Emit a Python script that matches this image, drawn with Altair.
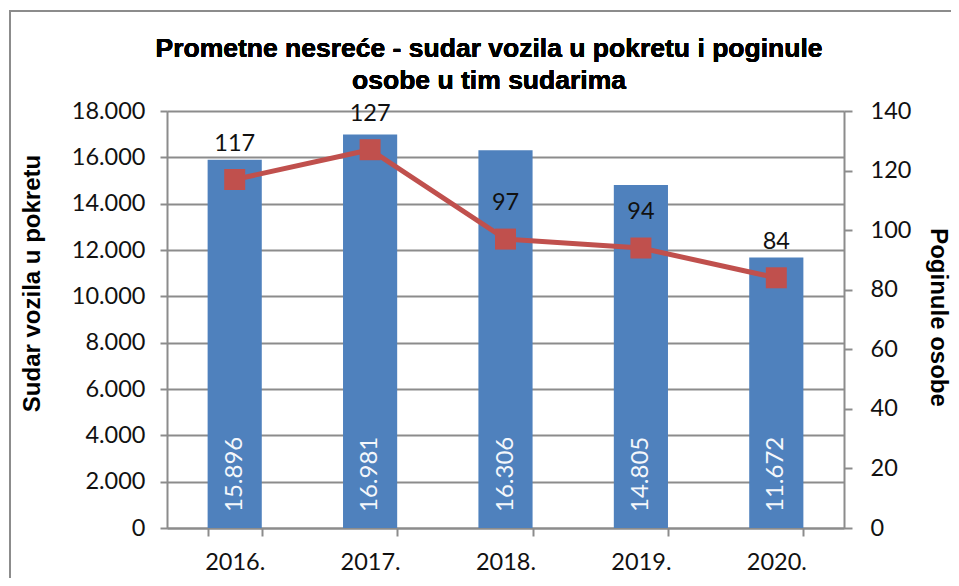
import altair as alt
import pandas as pd

years = ["2016.", "2017.", "2018.", "2019.", "2020."]
collisions = [15896, 16981, 16306, 14805, 11672]
deaths = [117, 127, 97, 94, 84]
collision_labels = ["15.896", "16.981", "16.306", "14.805", "11.672"]
title_text = "Prometne nesreće - sudar vozila u pokretu i poginule\nosobe u tim sudarima"

left_ticks = list(range(0, 18001, 2000))
right_ticks = list(range(0, 141, 20))

df = pd.DataFrame({
    "year": years,
    "collisions": collisions,
    "deaths": deaths,
    "clabel": collision_labels,
})

BLUE = "#4F81BD"
RED = "#C0504D"
GRID = "#8c8c8c"
LFONT = "Lato"
TFONT = "Liberation Sans"

xenc = alt.X("year:N", sort=None, title=None,
             scale=alt.Scale(paddingInner=0.6, paddingOuter=0.3),
             axis=alt.Axis(tickBand="extent", labelAngle=0, labelFont=LFONT,
                           labelFontSize=23.5, labelColor="#111",
                           labelBaseline="alphabetic", labelPadding=33,
                           tickSize=8, tickColor=GRID, tickWidth=2,
                           domainColor=GRID, domainWidth=2, grid=False))

yleft = alt.Y("collisions:Q",
              scale=alt.Scale(domain=[0, 18000], nice=False),
              axis=alt.Axis(values=left_ticks, title="Sudar vozila u pokretu",
                            labelExpr="replace(format(datum.value, ','), ',', '.')",
                            labelFont=LFONT, labelFontSize=23.5, labelColor="#111",
                            labelPadding=15, tickSize=7, tickColor=GRID, tickWidth=2,
                            domainColor=GRID, domainWidth=2,
                            grid=True, gridColor=GRID, gridWidth=2,
                            titleFont=TFONT, titleFontSize=24, titleFontWeight="bold",
                            titleColor="#000", titleX=-128, titleY=172,
                            titleBaseline="alphabetic", titleAngle=270))

bars = alt.Chart(df).mark_bar(color=BLUE).encode(x=xenc, y=yleft)

bar_text = alt.Chart(df).mark_text(
    angle=270, align="left", baseline="middle", dx=16,
    font=LFONT, fontSize=24, color="#f4f7fb"
).encode(x=alt.X("year:N", sort=None), y=alt.datum(0), text="clabel:N")

left = alt.layer(bars, bar_text)

yright = alt.Y("deaths:Q",
               scale=alt.Scale(domain=[0, 140], nice=False),
               axis=alt.Axis(orient="right", values=right_ticks, title="Poginule osobe",
                             labelFont=LFONT, labelFontSize=23.5, labelColor="#111",
                             labelPadding=18, tickSize=8, tickColor=GRID, tickWidth=2,
                             domainColor=GRID, domainWidth=2, grid=False,
                             titleFont=TFONT, titleFontSize=24, titleFontWeight="bold",
                             titleColor="#000", titleX=86, titleY=206,
                             titleBaseline="alphabetic", titleAngle=90))

line = alt.Chart(df).mark_line(color=RED, strokeWidth=5).encode(
    x=alt.X("year:N", sort=None), y=yright)
pts = alt.Chart(df).mark_square(color=RED, size=441, opacity=1).encode(
    x=alt.X("year:N", sort=None), y=alt.Y("deaths:Q"))
line_text = alt.Chart(df).mark_text(
    baseline="alphabetic", dy=-29, font=LFONT, fontSize=23.5, color="#111"
).encode(x=alt.X("year:N", sort=None), y=alt.Y("deaths:Q"), text="deaths:Q")

right = alt.layer(line, pts, line_text)

border_top = alt.Chart(df).mark_rule(stroke=GRID, strokeWidth=2).encode(
    x=alt.value(-158), x2=alt.value(784), y=alt.value(-100))
border_left = alt.Chart(df).mark_rule(stroke=GRID, strokeWidth=2).encode(
    x=alt.value(-157), y=alt.value(-101), y2=alt.value(467))

title = alt.Chart(df).mark_text(
    text=title_text, lineBreak="\n", font=TFONT, fontSize=26.5, fontWeight="bold",
    color="#000", align="center", baseline="top", lineHeight=32
).encode(x=alt.value(322), y=alt.value(-75))

chart = alt.layer(left, right, border_top, border_left, title).resolve_scale(
    y="independent").properties(
    width=677, height=417,
    autosize=alt.AutoSizeParams(type="none"),
    padding={"left": 159, "top": 103, "right": 107, "bottom": 50},
).configure_view(stroke=None).configure(background="white")

chart.save("out.html", embed_options={"renderer": "svg", "actions": False})
